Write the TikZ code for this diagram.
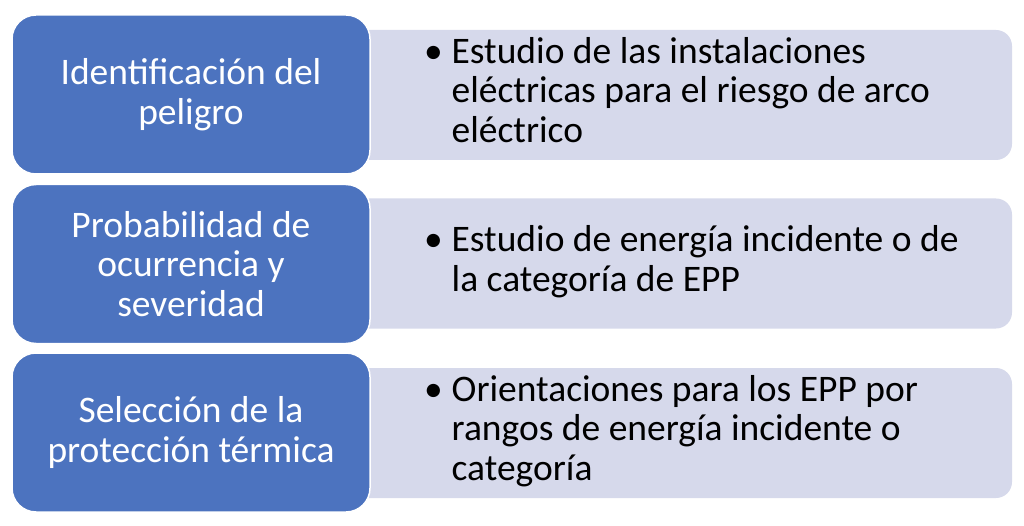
\documentclass[tikz,border=0pt]{standalone}
\usepackage{fontspec}
\setmainfont{Carlito}
\usepackage{tikz}
\definecolor{azulEtapa}{HTML}{4C73BF}
\definecolor{lilaDetalle}{HTML}{D6D9EB}
\newcommand{\letra}{\fontsize{37.5}{39.5}\selectfont}
\newcommand{\puntos}[1]{\begin{tabular}{@{}l@{\hspace{9pt}}l@{}}#1\end{tabular}}
\tikzset{
    etapa/.style={draw=white, line width=1.5pt, fill=azulEtapa, rounded corners=24pt, minimum width=358pt, minimum height=159pt, text=white, align=center, font=\letra},
    detalle/.style={fill=lilaDetalle, rounded corners=16pt, minimum width=672pt, minimum height=130pt},
    vineta/.style={anchor=west, align=left, inner sep=0pt, font=\letra} }
\usetikzlibrary{positioning}

\begin{document}
\begin{tikzpicture}[x=1pt, y=-1pt]
			\useasboundingbox (0,0) rectangle (1024,526);
			% ----
			\node[detalle] (d1) at (676,95) {};
			\node[detalle] (d2) at (676,263.5) {};
			\node[detalle] (d3) at (676,433) {};
			\node[vineta] (t1) at ([xshift=84pt]d1.west) {\puntos{\textbullet & Estudio de las instalaciones\\ & eléctricas para el riesgo de arco\\ & eléctrico}};
			\node[vineta] (t2) at ([xshift=84pt]d2.west) {\puntos{\textbullet & Estudio de energía incidente o de\\ & la categoría de EPP}};
			\node[vineta] (t3) at ([xshift=84pt]d3.west) {\puntos{\textbullet & Orientaciones para los EPP por\\ & rangos de energía incidente o\\ & categoría}};
			% ----
			\node[etapa] (e1) at (191,94.5) {Identificación del\\peligro};
			\node[etapa] (e2) at (191,264) {Probabilidad de\\ocurrencia y\\severidad};
			\node[etapa] (e3) at (191,432.5) {Selección de la\\protección térmica};
		\end{tikzpicture}
\end{document}
